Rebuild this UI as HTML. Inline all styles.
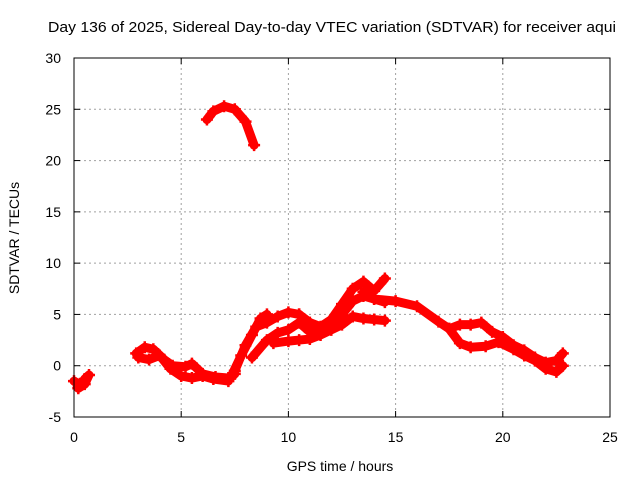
<!DOCTYPE html>
<html><head><meta charset="utf-8"><style>
body{margin:0;background:#fff}
svg{display:block;font-family:"Liberation Sans",sans-serif}
</style></head><body>
<svg id="chart" width="640" height="480">
<text x="48" y="32" font-size="14.5" textLength="568" lengthAdjust="spacingAndGlyphs">Day 136 of 2025, Sidereal Day-to-day VTEC variation (SDTVAR) for receiver aqui</text>
<g id="grid"></g>
<g id="axes"></g>
<g id="series"></g>
<rect x="74" y="58" width="536" height="359" fill="none" stroke="#000" stroke-width="1"/>
<text x="340" y="471" font-size="14" text-anchor="middle">GPS time / hours</text>
<text transform="translate(19,238) rotate(-90)" font-size="14" text-anchor="middle">SDTVAR / TECUs</text>
</svg>
<script>
const xTicks=[0,5,10,15,20,25];
const yTicks=[-5,0,5,10,15,20,25,30];
const seriesStart=[[0,-1.5],[0.3,-1.9],[0.5,-1.3],[0.7,-0.9],[0.5,-1.8],[0.2,-2.2]];
const seriesArc=[[6.2,24],[6.5,24.8],[7,25.3],[7.5,25],[8,23.8],[8.4,21.5]];
const seriesMorningA=[[2.9,1.2],[3.3,1.8],[3.7,1.6],[4.2,0.6],[4.6,0],[5.2,-0.1],[5.5,0.2],[6,-0.8],[6.6,-1.1],[7.2,-1.2],[7.5,-0.8]];
const seriesMorningB=[[3,0.8],[3.5,0.6],[4,1.0],[4.5,-0.3],[5,-1.0],[5.5,-1.2],[6,-1.0],[6.5,-1.3],[7.2,-1.5]];
const seriesRise=[[7.3,-1.2],[7.8,1],[8.3,3],[8.7,4.6],[9,5.0]];
const seriesUpper=[[7.5,-0.5],[8,2],[8.5,3.8],[9,4.2],[9.5,4.8],[10,5.2],[10.5,5.0]];
const seriesMiddle=[[8.3,0.8],[9,2.5],[9.5,3.2],[10,3.5],[10.5,4.2],[11,3.3],[11.5,3.2],[12,3.8],[12.5,5.0],[13,6.3],[13.5,6.8],[14,6.5],[14.5,6.2]];
const seriesLower=[[9.3,2.2],[10,2.4],[10.5,2.5],[11,2.6],[11.5,3],[12,3.5],[12.5,4.0],[13,4.8],[13.5,4.6],[14,4.5],[14.5,4.4]];
const seriesRidge=[[10.5,5.0],[11,4.2],[11.5,3.8],[12,4.5],[12.5,6],[13,7.5],[13.5,8.2],[14,7.3],[14.5,8.5]];
const seriesDecline=[[13.5,7.2],[14,6.5],[15,6.3],[16,5.8],[17,4.3],[17.5,3.6],[18,4.0],[18.5,4.0],[19,4.2],[19.5,3.3],[20,2.8],[20.5,2.0],[21,1.5],[21.5,0.8],[22,0.3],[22.5,0.5],[22.8,1.2]];
const seriesEvening=[[17.5,3.6],[18,2.2],[18.5,1.8],[19.2,1.9],[19.8,2.3],[20.5,1.6],[21,1.0],[21.5,0.5],[22,-0.3],[22.5,-0.6],[22.8,0]];
const allSeries=[seriesStart,seriesArc,seriesMorningA,seriesMorningB,seriesRise,seriesUpper,seriesMiddle,seriesLower,seriesRidge,seriesDecline,seriesEvening];

const NS="http://www.w3.org/2000/svg";
const X0=74,X1=610,Y0=417,Y1=58,xMin=0,xMax=25,yMin=-5,yMax=30;
const xs=v=>X0+(v-xMin)/(xMax-xMin)*(X1-X0);
const ys=v=>Y0-(v-yMin)/(yMax-yMin)*(Y0-Y1);
function mk(tag,attrs,parent){const e=document.createElementNS(NS,tag);for(const k in attrs)e.setAttribute(k,attrs[k]);parent.appendChild(e);return e;}
const grid=document.getElementById('grid'),axes=document.getElementById('axes'),ser=document.getElementById('series');
xTicks.forEach(t=>{const x=xs(t);
 if(t>xMin&&t<xMax){const g=mk('line',{x1:x,x2:x,y1:Y1,y2:Y0,stroke:'#a0a0a0','stroke-dasharray':'2,3'},grid);
 
 }
 mk('line',{x1:x,x2:x,y1:Y0,y2:Y0-6,stroke:'#000'},axes);
 mk('line',{x1:x,x2:x,y1:Y1,y2:Y1+6,stroke:'#000'},axes);
 const l=mk('text',{x:x,y:Y0+25,'font-size':14,'text-anchor':'middle'},axes);l.textContent=t;
 
 
});
yTicks.forEach(t=>{const y=ys(t);
 if(t>yMin&&t<yMax){const g=mk('line',{x1:X0,x2:X1,y1:y,y2:y,stroke:'#a0a0a0','stroke-dasharray':'2,3'},grid);
 
 }
 mk('line',{x1:X0,x2:X0+6,y1:y,y2:y,stroke:'#000'},axes);
 mk('line',{x1:X1,x2:X1-6,y1:y,y2:y,stroke:'#000'},axes);
 const l=mk('text',{x:X0-13,y:y+5,'font-size':14,'text-anchor':'end'},axes);l.textContent=t;
 
 
});
allSeries.forEach(s=>{
 const p=mk('polyline',{points:s.map(d=>xs(d[0])+','+ys(d[1])).join(' '),fill:'none',stroke:'#ff0000','stroke-width':9,'stroke-linejoin':'round','stroke-linecap':'round'},ser);
 
 
 s.forEach(d=>{const cx=xs(d[0]),cy=ys(d[1]);
  const m=mk('path',{d:`M${cx-6},${cy}H${cx+6}M${cx},${cy-6}V${cy+6}`,stroke:'#ff0000','stroke-width':2.5},ser);
  
  
 });
});
</script>
</body></html>
